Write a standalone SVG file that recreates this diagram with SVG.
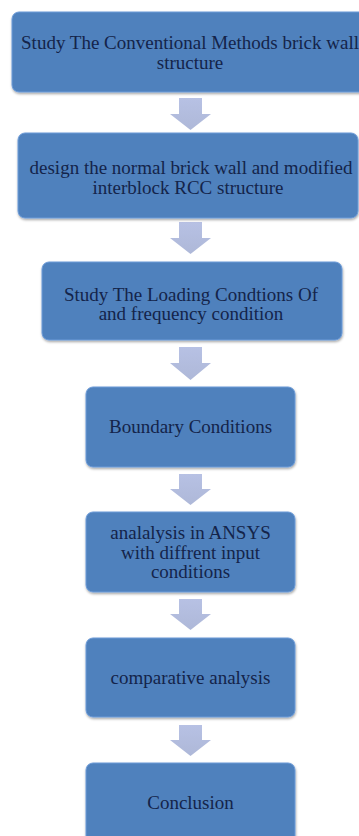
<svg xmlns="http://www.w3.org/2000/svg" width="359" height="836" viewBox="0 0 359 836">
<defs>
<linearGradient id="ag" x1="0" y1="0" x2="0" y2="1">
<stop offset="0" stop-color="#B7C1E4"/>
<stop offset="1" stop-color="#AEB8D8"/>
</linearGradient>
<filter id="sh" x="-10%" y="-10%" width="120%" height="130%">
<feDropShadow dx="0.5" dy="1.5" stdDeviation="1.2" flood-color="#000" flood-opacity="0.35"/>
</filter>
</defs>
<style>
.box{fill:#4F81BD;stroke:#6C9BD8;stroke-width:1;filter:url(#sh)}
.t{font-family:"Liberation Serif","Times New Roman",serif;font-size:19px;fill:#14244A;text-anchor:middle}
.ar{fill:url(#ag)}
</style>
<rect width="359" height="836" fill="#FFFFFF"/>
<g id="connectors">
<path class="ar" d="M179 98 H202 V114 H211 L190.5 130 L170 114 H179 Z"/>
<path class="ar" d="M179 222 H202 V238 H211 L190.5 254 L170 238 H179 Z"/>
<path class="ar" d="M179 347 H202 V363 H211 L190.5 380 L170 363 H179 Z"/>
<path class="ar" d="M179 474 H202 V489 H211 L190.5 505 L170 489 H179 Z"/>
<path class="ar" d="M179 599 H202 V614 H211 L190.5 630 L170 614 H179 Z"/>
<path class="ar" d="M179 725 H202 V740 H211 L190.5 756 L170 740 H179 Z"/>
</g>
<g id="node1">
<rect class="box" x="12" y="12" width="360" height="80" rx="7"/>
<text class="t" x="190" y="49">Study The Conventional Methods brick wall</text>
<text class="t" x="190" y="69">structure</text>
</g>
<g id="node2">
<rect class="box" x="18" y="133" width="340" height="85" rx="7"/>
<text class="t" x="191" y="174">design the normal brick wall and modified</text>
<text class="t" x="188" y="194">interblock RCC structure</text>
</g>
<g id="node3">
<rect class="box" x="42" y="262" width="300" height="78" rx="7"/>
<text class="t" x="191" y="301">Study The Loading Condtions Of</text>
<text class="t" x="191" y="320">and frequency condition</text>
</g>
<g id="node4">
<rect class="box" x="86" y="387" width="209" height="80" rx="7"/>
<text class="t" x="190.5" y="433">Boundary Conditions</text>
</g>
<g id="node5">
<rect class="box" x="86" y="512" width="209" height="80" rx="7"/>
<text class="t" x="190.5" y="539">analalysis in ANSYS</text>
<text class="t" x="190.5" y="559">with diffrent input</text>
<text class="t" x="190.5" y="578">conditions</text>
</g>
<g id="node6">
<rect class="box" x="86" y="638" width="209" height="79" rx="7"/>
<text class="t" x="190.5" y="684">comparative analysis</text>
</g>
<g id="node7">
<rect class="box" x="86" y="763" width="209" height="80" rx="7"/>
<text class="t" x="190.5" y="809">Conclusion</text>
</g>
</svg>
